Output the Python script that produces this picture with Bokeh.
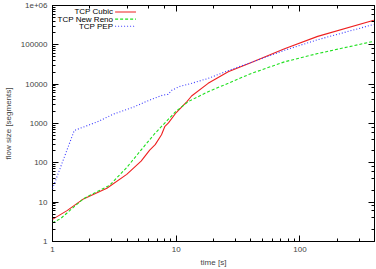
from bokeh.plotting import figure
from bokeh.models import (LogAxis, LogTicker, CustomJSTickFormatter, Range1d,
                          LinearScale)
from bokeh.core.properties import value
from bokeh.embed import file_html
from bokeh.resources import INLINE

series_names = ["TCP Cubic", "TCP New Reno", "TCP PEP"]

cubic_t = [1, 1.31, 1.78, 2.75, 3.98, 5.2, 6.1, 6.76, 7.6, 8.1, 8.65, 10, 12.2, 13.3, 18.1, 26.3, 40, 75, 139, 395]
cubic_y = [3.65, 6.1, 12.1, 22.5, 51, 110, 210, 290, 520, 850, 1035, 1900, 3600, 5000, 10500, 20700, 35000, 80000, 164000, 420000]

reno_t = [1, 1.16, 1.78, 2.9, 3.98, 5.25, 6.76, 8.1, 9.8, 12.5, 18.1, 26.3, 40, 75, 139, 395]
reno_y = [3.0, 3.8, 12.3, 27, 76, 220, 570, 1035, 1950, 3600, 6450, 10500, 18500, 37000, 60000, 123000]

pep_t = [1, 1.5, 2.3, 3.13, 4.5, 5.8, 7.8, 8.6, 9.2, 10.6, 13.3, 18.1, 27.9, 47, 75, 139, 395]
pep_y = [22, 665, 1100, 1750, 2600, 3700, 5300, 5500, 7000, 8700, 10500, 14000, 23700, 42400, 72700, 135000, 330000]

colors = ["#ee2020", "#20e020", "#3a3aff"]
dashes = ["solid", "3 2", "1 2"]

FONT = "Liberation Sans"
FS = "8px"

p = figure(width=376, height=269, x_axis_type="log", y_axis_type="log",
           x_range=Range1d(1, 400), y_range=Range1d(1, 1e6),
           output_backend="svg", toolbar_location=None,
           min_border_left=50, min_border_right=2, min_border_top=5, min_border_bottom=26)
p.grid.visible = False
p.outline_line_color = "black"
p.outline_line_width = 1
p.background_fill_color = "white"
p.border_fill_color = "white"

for t, y, c, d in zip([cubic_t, reno_t, pep_t], [cubic_y, reno_y, pep_y], colors, dashes):
    p.line(t, y, line_color=c, line_width=1.1, line_dash=d)

p.yaxis.formatter = CustomJSTickFormatter(code="""
return tick >= 1e6 ? tick.toExponential().replace('e+','e+0') : tick.toFixed(0);
""")
p.xaxis.formatter = CustomJSTickFormatter(code="return tick.toFixed(0);")

for ax in [p.xaxis[0], p.yaxis[0]]:
    ax.major_tick_in = 6
    ax.major_tick_out = 0
    ax.minor_tick_in = 3
    ax.minor_tick_out = 0
    ax.axis_line_color = None
    ax.major_label_text_font = FONT
    ax.major_label_text_font_size = FS
    ax.axis_label_text_font = FONT
    ax.axis_label_text_font_size = FS
    ax.axis_label_text_font_style = "normal"
    ax.major_label_standoff = 5

p.xaxis.axis_label = "time [s]"
p.yaxis.axis_label = "flow size [segments]"
p.xaxis.axis_label_standoff = 3
p.yaxis.axis_label_standoff = 5

# mirrored ticks
for side in ["above", "right"]:
    ax = LogAxis(ticker=LogTicker(), major_tick_in=6, major_tick_out=0, minor_tick_in=3,
                 minor_tick_out=0, axis_line_color=None, major_label_text_color=None,
                 major_label_text_font_size="1px", major_label_standoff=0)
    p.add_layout(ax, side)

# legend drawn in frame-pixel coordinates (text right aligned, sample on the right)
p.extra_x_ranges = {"leg": Range1d(0, 324)}
p.extra_y_ranges = {"leg": Range1d(0, 238)}
p.extra_x_scales = {"leg": LinearScale()}
p.extra_y_scales = {"leg": LinearScale()}
rows = [231.5, 224.3, 217.1]
for name, c, d, ry in zip(series_names, colors, dashes, rows):
    p.line([63, 84], [ry, ry], line_color=c, line_width=1.1, line_dash=d,
           x_range_name="leg", y_range_name="leg")
    p.text([61], [ry], text=[name], text_align="right", text_baseline="middle",
           text_font=value(FONT), text_font_size=FS, text_color="black",
           x_range_name="leg", y_range_name="leg")

open("out.html", "w").write(file_html(p, INLINE))
